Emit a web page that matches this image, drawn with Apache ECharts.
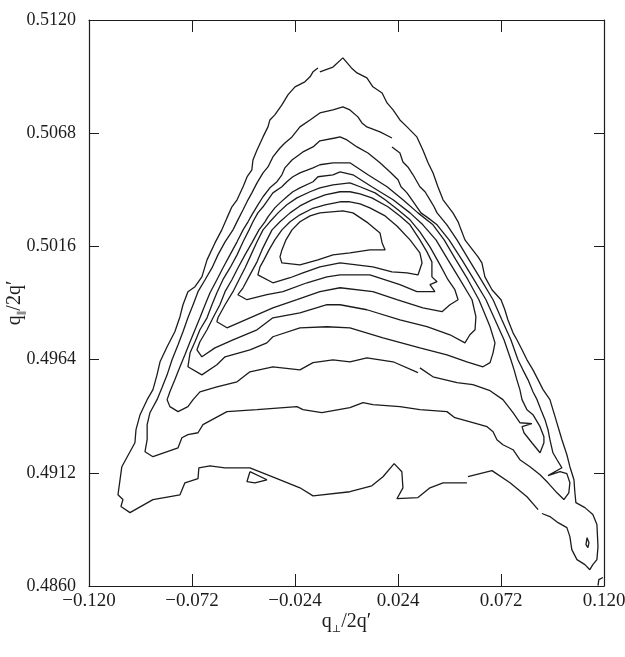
<!DOCTYPE html>
<html>
<head>
<meta charset="utf-8">
<title>contour</title>
<script src="https://cdn.jsdelivr.net/npm/echarts@6/dist/echarts.min.js"></script>
<style>
  html, body { margin: 0; padding: 0; background: #fff; }
  #chart { width: 625px; height: 657px; }
</style>
</head>
<body>
<div id="chart"></div>
<script>
// axis ticks
const xTicks = [-0.120, -0.072, -0.024, 0.024, 0.072, 0.120]
const yTicks = [0.4860, 0.4912, 0.4964, 0.5016, 0.5068, 0.5120]

// contour lines, [q_perp, q_par] pairs, outermost first
const contour1a = [[-0.0133,0.50980],[-0.0156,0.50962],[-0.0170,0.50939],[-0.0194,0.50916],[-0.0240,0.50893],[-0.0273,0.50856],[-0.0301,0.50810],[-0.0334,0.50764],[-0.0357,0.50741],[-0.0366,0.50709],[-0.0389,0.50663],[-0.0417,0.50603],[-0.0436,0.50557],[-0.0441,0.50512],[-0.0463,0.50480],[-0.0482,0.50434],[-0.0510,0.50374],[-0.0534,0.50342],[-0.0557,0.50291],[-0.0581,0.50236],[-0.0613,0.50176],[-0.0650,0.50098],[-0.0674,0.50020],[-0.0706,0.49975],[-0.0739,0.49952],[-0.0762,0.49892],[-0.0776,0.49837],[-0.0800,0.49768],[-0.0836,0.49699],[-0.0869,0.49630],[-0.0883,0.49570],[-0.0902,0.49502],[-0.0929,0.49456],[-0.0962,0.49387],[-0.0981,0.49318],[-0.0986,0.49258],[-0.1047,0.49148],[-0.1065,0.49019],[-0.1042,0.48997],[-0.1051,0.48965],[-0.1009,0.48937],[-0.0902,0.48997],[-0.0776,0.49019],[-0.0753,0.49074],[-0.0692,0.49093],[-0.0688,0.49143],[-0.0636,0.49152],[-0.0567,0.49143],[-0.0450,0.49143],[-0.0324,0.49093],[-0.0217,0.49051],[-0.0156,0.49014],[0.0016,0.49033],[0.0118,0.49060],[0.0170,0.49102],[0.0222,0.49162],[0.0258,0.49125],[0.0263,0.49051],[0.0235,0.49001],[0.0333,0.49006],[0.0389,0.49051],[0.0450,0.49074],[0.0561,0.49074]]
const contour1b = [[0.0566,0.49102],[0.0678,0.49130],[0.0762,0.49074],[0.0841,0.49010],[0.0893,0.48951]]
const contour1c = [[0.0911,0.48933],[0.0948,0.48919],[0.0986,0.48891],[0.1027,0.48868],[0.1041,0.48827],[0.1050,0.48767],[0.1074,0.48721],[0.1111,0.48698],[0.1134,0.48675],[0.1148,0.48698],[0.1167,0.48721],[0.1172,0.48781],[0.1167,0.48882],[0.1148,0.48928],[0.1111,0.48960],[0.1069,0.48983],[0.1064,0.49033],[0.1060,0.49088],[0.1041,0.49148],[0.1027,0.49203],[0.1004,0.49272],[0.0990,0.49318],[0.0976,0.49364],[0.0962,0.49410],[0.0948,0.49456],[0.0916,0.49502],[0.0893,0.49547],[0.0869,0.49593],[0.0841,0.49639],[0.0818,0.49685],[0.0794,0.49731],[0.0776,0.49763],[0.0752,0.49823],[0.0738,0.49869],[0.0720,0.49915],[0.0678,0.49961],[0.0645,0.50020],[0.0631,0.50084],[0.0613,0.50112],[0.0552,0.50190],[0.0534,0.50236],[0.0520,0.50273],[0.0496,0.50314],[0.0450,0.50374],[0.0426,0.50434],[0.0403,0.50498],[0.0380,0.50544],[0.0356,0.50603],[0.0328,0.50663],[0.0282,0.50709],[0.0249,0.50741],[0.0217,0.50787],[0.0189,0.50819],[0.0166,0.50865],[0.0123,0.50893],[0.0095,0.50934],[0.0049,0.50957],[0.0023,0.50980],[-0.0017,0.51026],[-0.0063,0.50984],[-0.0124,0.50962]]
const contour2 = [[0.0212,0.50617],[0.0249,0.50589],[0.0263,0.50548],[0.0286,0.50525],[0.0310,0.50489],[0.0342,0.50434],[0.0366,0.50411],[0.0389,0.50374],[0.0408,0.50342],[0.0422,0.50314],[0.0468,0.50259],[0.0515,0.50190],[0.0571,0.50098],[0.0627,0.50007],[0.0683,0.49915],[0.0724,0.49823],[0.0766,0.49731],[0.0799,0.49639],[0.0822,0.49593],[0.0846,0.49547],[0.0869,0.49492],[0.0888,0.49456],[0.0906,0.49410],[0.0925,0.49364],[0.0939,0.49318],[0.0948,0.49272],[0.0962,0.49212],[0.0981,0.49180],[0.1004,0.49143],[0.0939,0.49107],[0.0995,0.49125],[0.1027,0.49116],[0.1041,0.49074],[0.1036,0.49028],[0.1013,0.48997],[0.0981,0.49028],[0.0939,0.49074],[0.0902,0.49111],[0.0855,0.49148],[0.0808,0.49180],[0.0776,0.49226],[0.0729,0.49249],[0.0701,0.49272],[0.0683,0.49309],[0.0655,0.49332],[0.0589,0.49350],[0.0505,0.49373],[0.0468,0.49401],[0.0342,0.49410],[0.0249,0.49424],[0.0123,0.49433],[0.0077,0.49442],[0.0016,0.49419],[-0.0115,0.49396],[-0.0203,0.49410],[-0.0231,0.49424],[-0.0417,0.49410],[-0.0557,0.49401],[-0.0669,0.49341],[-0.0692,0.49304],[-0.0739,0.49295],[-0.0767,0.49281],[-0.0785,0.49235],[-0.0902,0.49194],[-0.0939,0.49217],[-0.0929,0.49272],[-0.0929,0.49341],[-0.0916,0.49396],[-0.0883,0.49456],[-0.0860,0.49511],[-0.0836,0.49570],[-0.0813,0.49639],[-0.0785,0.49708],[-0.0762,0.49768],[-0.0739,0.49832],[-0.0715,0.49892],[-0.0692,0.49952],[-0.0659,0.50007],[-0.0627,0.50061],[-0.0599,0.50121],[-0.0566,0.50181],[-0.0529,0.50236],[-0.0506,0.50282],[-0.0482,0.50328],[-0.0459,0.50374],[-0.0441,0.50406],[-0.0417,0.50452],[-0.0389,0.50498],[-0.0366,0.50525],[-0.0343,0.50571],[-0.0310,0.50612],[-0.0287,0.50635],[-0.0254,0.50663],[-0.0217,0.50709],[-0.0170,0.50741],[-0.0124,0.50773],[-0.0063,0.50787],[-0.0017,0.50801],[0.0016,0.50787],[0.0053,0.50755],[0.0072,0.50727],[0.0095,0.50709],[0.0156,0.50686],[0.0212,0.50658]]
const contour3 = [[0.0342,0.49602],[0.0403,0.49561],[0.0515,0.49534],[0.0589,0.49525],[0.0669,0.49497],[0.0729,0.49456],[0.0776,0.49396],[0.0808,0.49350],[0.0864,0.49346],[0.0818,0.49332],[0.0827,0.49304],[0.0864,0.49258],[0.0902,0.49212],[0.0920,0.49258],[0.0920,0.49286],[0.0902,0.49332],[0.0869,0.49387],[0.0841,0.49410],[0.0818,0.49456],[0.0808,0.49502],[0.0794,0.49547],[0.0781,0.49593],[0.0766,0.49639],[0.0734,0.49731],[0.0692,0.49823],[0.0650,0.49915],[0.0594,0.50007],[0.0538,0.50098],[0.0478,0.50190],[0.0422,0.50259],[0.0380,0.50291],[0.0347,0.50314],[0.0305,0.50374],[0.0282,0.50406],[0.0254,0.50434],[0.0240,0.50466],[0.0203,0.50502],[0.0156,0.50544],[0.0100,0.50589],[0.0049,0.50617],[0.0002,0.50649],[-0.0030,0.50663],[-0.0054,0.50658],[-0.0124,0.50645],[-0.0156,0.50617],[-0.0203,0.50594],[-0.0254,0.50557],[-0.0287,0.50521],[-0.0301,0.50489],[-0.0324,0.50457],[-0.0357,0.50429],[-0.0389,0.50388],[-0.0413,0.50351],[-0.0441,0.50305],[-0.0459,0.50273],[-0.0482,0.50236],[-0.0510,0.50181],[-0.0543,0.50121],[-0.0576,0.50061],[-0.0604,0.50007],[-0.0636,0.49947],[-0.0659,0.49892],[-0.0683,0.49832],[-0.0706,0.49777],[-0.0729,0.49722],[-0.0753,0.49662],[-0.0776,0.49607],[-0.0800,0.49547],[-0.0823,0.49492],[-0.0836,0.49456],[-0.0823,0.49424],[-0.0785,0.49401],[-0.0739,0.49424],[-0.0715,0.49456],[-0.0683,0.49492],[-0.0604,0.49515],[-0.0510,0.49538],[-0.0450,0.49584],[-0.0343,0.49607],[-0.0217,0.49593],[-0.0156,0.49626],[-0.0063,0.49639],[0.0016,0.49630],[0.0095,0.49648],[0.0217,0.49630],[0.0333,0.49580]]
const contour4 = [[0.0016,0.50544],[0.0100,0.50489],[0.0189,0.50434],[0.0263,0.50374],[0.0333,0.50314],[0.0403,0.50259],[0.0455,0.50190],[0.0510,0.50098],[0.0566,0.50007],[0.0617,0.49915],[0.0650,0.49837],[0.0669,0.49791],[0.0692,0.49717],[0.0683,0.49671],[0.0669,0.49626],[0.0636,0.49607],[0.0561,0.49630],[0.0468,0.49662],[0.0342,0.49694],[0.0170,0.49740],[0.0016,0.49786],[-0.0091,0.49791],[-0.0217,0.49786],[-0.0343,0.49745],[-0.0371,0.49717],[-0.0450,0.49685],[-0.0566,0.49653],[-0.0604,0.49616],[-0.0674,0.49570],[-0.0739,0.49607],[-0.0729,0.49671],[-0.0706,0.49722],[-0.0683,0.49777],[-0.0650,0.49832],[-0.0627,0.49892],[-0.0604,0.49947],[-0.0576,0.50007],[-0.0543,0.50061],[-0.0510,0.50121],[-0.0482,0.50181],[-0.0454,0.50236],[-0.0436,0.50273],[-0.0413,0.50314],[-0.0389,0.50342],[-0.0366,0.50374],[-0.0343,0.50406],[-0.0301,0.50434],[-0.0278,0.50457],[-0.0250,0.50480],[-0.0217,0.50498],[-0.0156,0.50521],[-0.0124,0.50535],[-0.0063,0.50544],[0.0016,0.50544]]
const contour5 = [[-0.0030,0.50502],[0.0030,0.50489],[0.0118,0.50434],[0.0217,0.50374],[0.0296,0.50314],[0.0356,0.50259],[0.0417,0.50190],[0.0473,0.50098],[0.0529,0.50007],[0.0585,0.49915],[0.0603,0.49837],[0.0599,0.49777],[0.0575,0.49754],[0.0552,0.49717],[0.0482,0.49754],[0.0375,0.49791],[0.0249,0.49823],[0.0095,0.49869],[-0.0030,0.49892],[-0.0091,0.49892],[-0.0217,0.49855],[-0.0343,0.49832],[-0.0417,0.49777],[-0.0529,0.49731],[-0.0613,0.49694],[-0.0674,0.49653],[-0.0697,0.49685],[-0.0683,0.49722],[-0.0650,0.49777],[-0.0622,0.49832],[-0.0590,0.49892],[-0.0566,0.49952],[-0.0534,0.50007],[-0.0506,0.50061],[-0.0473,0.50121],[-0.0441,0.50176],[-0.0408,0.50236],[-0.0380,0.50273],[-0.0366,0.50296],[-0.0334,0.50337],[-0.0310,0.50360],[-0.0278,0.50388],[-0.0250,0.50411],[-0.0217,0.50429],[-0.0156,0.50457],[-0.0133,0.50480],[-0.0063,0.50489],[-0.0030,0.50502]]
const contour6 = [[0.0016,0.50452],[0.0063,0.50434],[0.0133,0.50406],[0.0180,0.50374],[0.0240,0.50328],[0.0296,0.50282],[0.0342,0.50227],[0.0389,0.50158],[0.0436,0.50075],[0.0473,0.50007],[0.0505,0.49961],[0.0520,0.49915],[0.0482,0.49892],[0.0445,0.49860],[0.0356,0.49878],[0.0235,0.49915],[0.0123,0.49952],[-0.0030,0.49970],[-0.0124,0.49952],[-0.0231,0.49915],[-0.0343,0.49878],[-0.0450,0.49832],[-0.0557,0.49786],[-0.0604,0.49814],[-0.0599,0.49832],[-0.0566,0.49892],[-0.0529,0.49952],[-0.0501,0.50007],[-0.0473,0.50061],[-0.0445,0.50121],[-0.0417,0.50181],[-0.0389,0.50236],[-0.0357,0.50273],[-0.0319,0.50314],[-0.0278,0.50351],[-0.0231,0.50383],[-0.0170,0.50411],[-0.0124,0.50429],[-0.0063,0.50443],[0.0016,0.50452]]
const contour7 = [[0.0016,0.50411],[0.0063,0.50401],[0.0118,0.50383],[0.0193,0.50342],[0.0249,0.50300],[0.0296,0.50259],[0.0342,0.50190],[0.0375,0.50135],[0.0398,0.50089],[0.0398,0.50020],[0.0422,0.49998],[0.0389,0.49984],[0.0412,0.49952],[0.0328,0.49952],[0.0249,0.49984],[0.0109,0.50029],[-0.0030,0.50029],[-0.0091,0.50020],[-0.0184,0.49993],[-0.0296,0.49952],[-0.0371,0.49938],[-0.0464,0.49915],[-0.0506,0.49938],[-0.0482,0.49970],[-0.0450,0.50029],[-0.0417,0.50089],[-0.0394,0.50144],[-0.0371,0.50190],[-0.0347,0.50236],[-0.0310,0.50273],[-0.0263,0.50314],[-0.0217,0.50346],[-0.0161,0.50374],[-0.0100,0.50397],[-0.0030,0.50411],[0.0016,0.50411]]
const contour8 = [[0.0016,0.50365],[0.0063,0.50355],[0.0109,0.50337],[0.0180,0.50300],[0.0235,0.50254],[0.0296,0.50190],[0.0342,0.50130],[0.0352,0.50084],[0.0333,0.50029],[0.0282,0.50038],[0.0212,0.50043],[0.0123,0.50066],[-0.0030,0.50084],[-0.0124,0.50066],[-0.0203,0.50038],[-0.0263,0.50016],[-0.0343,0.49993],[-0.0413,0.50029],[-0.0403,0.50066],[-0.0385,0.50098],[-0.0361,0.50144],[-0.0334,0.50190],[-0.0301,0.50236],[-0.0263,0.50273],[-0.0217,0.50305],[-0.0161,0.50333],[-0.0100,0.50351],[-0.0030,0.50365],[0.0016,0.50365]]
const contour9 = [[-0.0124,0.50314],[-0.0017,0.50323],[0.0030,0.50314],[0.0100,0.50268],[0.0156,0.50222],[0.0166,0.50176],[0.0180,0.50144],[0.0109,0.50144],[0.0016,0.50130],[-0.0063,0.50121],[-0.0133,0.50098],[-0.0217,0.50075],[-0.0301,0.50084],[-0.0310,0.50112],[-0.0301,0.50144],[-0.0282,0.50190],[-0.0254,0.50236],[-0.0217,0.50273],[-0.0170,0.50300],[-0.0124,0.50314]]
// small closed islands
const islandLow = [[-0.0450,0.49125],[-0.0371,0.49088],[-0.0427,0.49074],[-0.0464,0.49079],[-0.0450,0.49125]]
const islandTip = [[0.1121,0.48822],[0.1130,0.48799],[0.1125,0.48776],[0.1116,0.48790],[0.1121,0.48822]]
const cornerBit = [[0.1172,0.48602],[0.1176,0.48629],[0.1195,0.48639]]

const segments = [contour1a, contour1b, contour1c, contour2, contour3, contour4, contour5,
  contour6, contour7, contour8, contour9, islandLow, islandTip, cornerBit]

const ink = '#1c1c1c'
const serif = 'Liberation Serif'

function fmtX(v) {
  return (v < 0 ? '\u2212' : '') + Math.abs(v).toFixed(3)
}
function fmtY(v) {
  return v.toFixed(4)
}

const nameRich = {
  q: { fontFamily: serif, fontSize: 20, color: ink, lineHeight: 24 },
  s: { fontFamily: 'DejaVu Serif', fontSize: 10, color: ink, lineHeight: 12, verticalAlign: 'bottom' }
}

function baseAxis(extra) {
  return Object.assign({
    type: 'value',
    axisLine: { show: true, onZero: false, lineStyle: { color: ink, width: 1.2 } },
    splitLine: { show: false }
  }, extra)
}

const myChart = echarts.init(document.getElementById('chart'), null, { renderer: 'canvas' })
const option = {
  backgroundColor: '#fff',
  animation: false,
  grid: { left: 89, right: 21, top: 20, bottom: 71, containLabel: false, outerBoundsMode: 'none' },
  xAxis: [
    baseAxis({
      position: 'bottom',
      min: xTicks[0],
      max: xTicks[xTicks.length - 1],
      interval: 0.048,
      axisTick: { inside: true, length: 12, lineStyle: { color: ink } },
      axisLabel: { formatter: fmtX, fontFamily: serif, fontSize: 19, color: ink, margin: 6 },
      name: '{q|q}{s|\u22a5}{q|/2q\u2032}',
      nameLocation: 'middle',
      nameGap: 24,
      nameMoveOverlap: false,
      nameTextStyle: { rich: nameRich }
    }),
    baseAxis({
      position: 'top',
      min: xTicks[0],
      max: xTicks[xTicks.length - 1],
      interval: 0.048,
      axisTick: { inside: true, length: 12, lineStyle: { color: ink } },
      axisLabel: { show: false }
    })
  ],
  yAxis: [
    baseAxis({
      position: 'left',
      min: yTicks[0],
      max: yTicks[yTicks.length - 1],
      interval: 0.0052,
      axisTick: { inside: true, length: 10, lineStyle: { color: ink } },
      axisLabel: { formatter: fmtY, fontFamily: serif, fontSize: 18, color: ink, margin: 13 },
      name: '{q|q}{s|\u2225}{q|/2q\u2032}',
      nameLocation: 'middle',
      nameRotate: 90,
      nameGap: 62,
      nameMoveOverlap: false,
      nameTextStyle: { rich: nameRich }
    }),
    baseAxis({
      position: 'right',
      min: yTicks[0],
      max: yTicks[yTicks.length - 1],
      interval: 0.0052,
      axisTick: { inside: true, length: 10, lineStyle: { color: ink } },
      axisLabel: { show: false }
    })
  ],
  series: segments.map(function (d) {
    return {
      type: 'line',
      data: d,
      xAxisIndex: 0,
      yAxisIndex: 0,
      showSymbol: false,
      symbol: 'none',
      silent: true,
      lineStyle: { color: ink, width: 1.3 }
    }
  })
}
myChart.setOption(option)
</script>
</body>
</html>
